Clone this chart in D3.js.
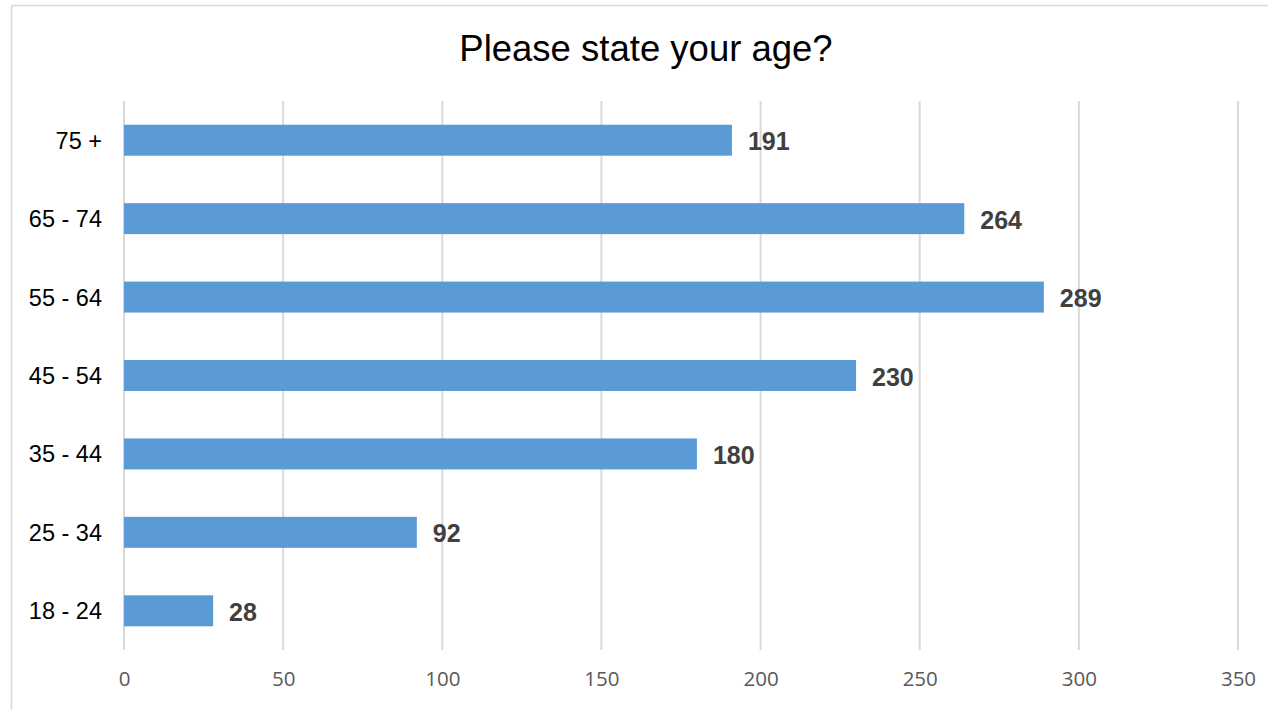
<!DOCTYPE html>
<html>
<head>
<meta charset="utf-8">
<script src="https://cdn.jsdelivr.net/npm/d3@7"></script>
<style>
  html, body { margin: 0; padding: 0; background: #fff; }
  svg { display: block; }
</style>
</head>
<body>
<svg id="chart" width="1268" height="710"></svg>
<script>
const title = "Please state your age?";
const categories = ["18 - 24", "25 - 34", "35 - 44", "45 - 54", "55 - 64", "65 - 74", "75 +"];
const values = [28, 92, 180, 230, 289, 264, 191];
const xTicks = [0, 50, 100, 150, 200, 250, 300, 350];

const svg = d3.select("#chart");

// chart border
svg.append("rect")
  .attr("x", 11.5).attr("y", 5.5)
  .attr("width", 1400).attr("height", 900)
  .attr("fill", "#fff").attr("stroke", "#d9d9d9").attr("stroke-width", 1.5);

const x = d3.scaleLinear().domain([0, 350]).range([124, 1238]);
const y = d3.scaleBand()
  .domain(categories.slice().reverse())
  .range([101, 650])
  .paddingInner(0.605)
  .paddingOuter(0.3025);

// gridlines
svg.append("g")
  .selectAll("line")
  .data(xTicks)
  .join("line")
  .attr("x1", d => x(d)).attr("x2", d => x(d))
  .attr("y1", 101).attr("y2", 650)
  .attr("stroke", "#d9d9d9").attr("stroke-width", 2);

// x axis labels
const xAxis = d3.axisBottom(x).tickValues(xTicks).tickSize(0).tickPadding(0);
const gx = svg.append("g").attr("transform", "translate(0,671)").call(xAxis);
gx.select(".domain").remove();
gx.selectAll("text")
  .attr("font-family", "'Open Sans', sans-serif")
  .attr("font-size", 20.5)
  .attr("fill", "#595959")
  .attr("dy", "0.71em")
  .attr("y", 0);

// y axis labels
const yAxis = d3.axisLeft(y).tickSize(0).tickPadding(22);
const gy = svg.append("g").attr("transform", "translate(124,0)").call(yAxis);
gy.select(".domain").remove();
gy.selectAll("text")
  .attr("font-family", "Arial, 'Liberation Sans', sans-serif")
  .attr("font-size", 23.5)
  .attr("dy", "0.36em")
  .attr("fill", "#000");

// bars
const data = categories.map((c, i) => ({ c, v: values[i] }));
svg.append("g")
  .selectAll("rect")
  .data(data)
  .join("rect")
  .attr("x", x(0))
  .attr("y", d => y(d.c))
  .attr("width", d => x(d.v) - x(0))
  .attr("height", y.bandwidth())
  .attr("fill", "#5B9BD5");

// value labels
svg.append("g")
  .selectAll("text")
  .data(data)
  .join("text")
  .attr("x", d => x(d.v) + 16)
  .attr("y", d => y(d.c) + y.bandwidth() / 2 + 1)
  .attr("dy", "0.36em")
  .attr("font-family", "Arial, 'Liberation Sans', sans-serif")
  .attr("font-weight", "bold")
  .attr("font-size", 25)
  .attr("fill", "#404040")
  .text(d => d.v);

// title
svg.append("text")
  .attr("x", 646).attr("y", 61)
  .attr("text-anchor", "middle")
  .attr("font-family", "Arial, 'Liberation Sans', sans-serif")
  .attr("font-size", 36.5)
  .attr("fill", "#000")
  .text(title);
</script>
</body>
</html>
